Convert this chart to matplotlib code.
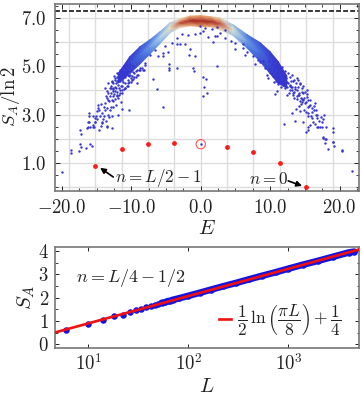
import numpy as np
import matplotlib
matplotlib.use('Agg')
import matplotlib.pyplot as plt
from matplotlib.colors import LinearSegmentedColormap

plt.rcParams['font.family'] = 'cmr10'
plt.rcParams['mathtext.fontset'] = 'cm'
plt.rcParams['axes.unicode_minus'] = False

# Top panel: red states and the grid through their energies
red_E = [-15.2, -11.4, -7.6, -3.8, 3.8, 7.6, 11.4, 15.2]
red_S = [0.87, 1.58, 1.78, 1.83, 1.66, 1.45, 1.01, 0.01]
ring_E = [0.0]
ring_S = [1.77]
grid_E = [-19, -15.2, -11.4, -7.6, -3.8, 0, 3.8, 7.6, 11.4, 15.2, 19]
grid_S = [0, 1, 2, 3, 4, 5, 6, 7]
page_S = 7.3

# Dense band: upper and lower edge at each energy, and the colour level inside
band_E = [-11.9, -10.2, -8.75, -7.3, -5.86, -4.42, -2.98, -1.54, 0, 1.44, 2.78, 4.65, 6.67, 8.54, 9.99, 11.14, 12.4]
band_top = [4.7, 5.40, 5.81, 6.10, 6.43, 6.80, 6.97, 7.08, 7.10, 7.05, 7.01, 6.72, 6.31, 5.98, 5.60, 5.20, 4.6]
band_bot = [4.3, 4.70, 5.10, 5.52, 5.95, 6.39, 6.60, 6.68, 6.64, 6.64, 6.51, 6.28, 5.76, 5.20, 4.70, 4.30, 4.1]
band_mid_heat = [0, .08, .2, .33, .48, .62, .9, 1, 1, 1, .9, .58, .33, .2, .08, .03, 0]
band_edge_heat = [0, .03, .1, .22, .35, .47, .62, .72, .74, .72, .62, .44, .25, .1, .03, 0, 0]

# Scattered states outside the band
dots_E = [-20.0, -18.7, -18.7, -17.6, -17.4, -17.3, -16.6, -16.0, -15.6, -17.4, -17.3, -16.4, -16.2, -16.0, -16.1, -16.3,
          -15.5, -15.2, -15.4, -14.6, -14.2, -14.3, -13.5, -12.8, -16.05, -16.1, -15.0, -14.85, -14.75, -14.27, -14.13,
          -15.23, -14.9, -15.47, -14.27, -15.47, -13.55, -13.17, -12.83, -11.87, -11.39, -10.33, -13.07, -12.59, -13.55,
          -13.79, -13.79, -13.65, -13.55, -13.79, -13.31, -13.07, -12.83, -13.17, -12.59, -12.35, -12.11, -11.87, -11.63,
          -11.39, -12.69, -12.59, -12.35, -11.87, -11.63, -11.15, -10.91, -10.43, -11.15, -10.67, -10.19, -9.95, -9.61,
          -9.23, -11.39, -12.11, -12.59, -13.07, -11.72, -10.91, -10.43,
          -4.62, -4.53, -4.53, -3.47, -1.07, -0.93, 0.37, 0.75, 0.51, 0.9, 0.27, 2.39, -6.3, -5.49, -6.83, -9.23, -8.17,
          -8.03, -8.75, -9.13, -9.71, -8.51,
          -3.47, -2.75, -1.79, -0.83, -0.11, -4.19, -3.47, -2.99, -2.27, -1.55, -1.69, -0.83, -5.39, -6.11, -5.39, -4.67,
          -5.15, -6.59, -7.31, -8.03, -8.75, -8.27,
          0.62, 0.38, 1.58, 2.3, 3.5, 1.1, 2.06, 2.4, 2.78, 1.72, 3.5, 4.32, 4.94, 6.04, 4.94, 6.14, 6.62, 6.38, 7.58, 8.3,
          7.82, 8.54, 9.02, 9.26, -0.1,
          9.51, 9.65, 10.47, 10.57, 10.95, 11.43, 10.95, 10.71, 12.39, 11.91, 12.87, 13.11, 13.59, 14.07, 14.31, 13.35,
          13.83, 14.55, 14.07, 14.79, 13.35, 15.27, 15.27, 14.65, 15.75, 15.03, 15.41, 14.31, 13.69, 14.31, 14.93, 15.51,
          16.47, 16.37, 16.57, 13.11, 16.09, 15.51, 16.71, 16.23, 17.77, 17.67, 17.53, 13.59, 14.79, 12.03, 15.75, 15.51,
          15.13, 15.41, 16.95, 17.19, 17.53, 18.0, 19.11, 19.0, 17.67, 18.0,
          19.05, 17.56, 17.94, 17.9, 18.3, 19.05, 19.14, 20.4, 20.4, 21.8, 0.0]
dots_S = [0.61, 1.54, 1.42, 1.47, 1.78, 1.67, 1.63, 1.78, 1.70, 2.34, 2.2, 2.43, 2.50, 2.48, 2.71, 2.67,
          2.57, 2.71, 2.5, 2.37, 2.71, 2.53, 2.53, 2.45, 3.06, 2.95, 3.13, 3.40, 3.26, 3.06, 2.81,
          2.71, 2.81, 2.95, 2.64, 2.5, 2.5, 2.89, 2.92, 2.99, 3.22, 3.17, 3.2, 3.33, 3.26,
          3.2, 3.47, 3.75, 3.96, 4.09, 3.89, 3.75, 3.61, 3.54, 3.75, 3.96, 3.82, 3.68, 3.89,
          4.03, 4.09, 4.3, 4.44, 4.23, 4.37, 4.51, 4.3, 4.44, 4.72, 4.79, 4.65, 4.44, 4.72,
          4.86, 4.65, 4.37, 3.96, 4.09, 4.09, 4.09, 4.19,
          5.09, 4.92, 4.84, 4.92, 4.94, 4.79, 4.55, 4.48, 4.14, 3.91, 3.78, 5.02, 4.05, 3.33, 4.47, 4.3, 4.85,
          5.06, 4.83, 4.65, 4.47, 4.92,
          6.17, 6.33, 6.28, 6.33, 6.37, 5.96, 5.92, 5.92, 5.92, 5.71, 5.45, 5.41, 5.54, 5.41, 5.41, 5.61,
          5.82, 5.68, 5.48, 5.13, 4.92, 4.85,
          6.58, 6.47, 6.55, 6.61, 6.51, 6.21, 6.24, 6.24, 6.37, 6.0, 6.17, 6.06, 5.96, 5.92, 5.71, 5.75, 5.61, 5.48, 5.41, 5.27,
          5.09, 5.17, 5.2, 4.92, 6.65,
          4.65, 4.51, 4.58, 4.33, 4.72, 4.44, 3.96, 3.86, 3.82, 4.23, 4.23, 4.03, 4.16, 4.44, 4.27, 4.37,
          4.03, 4.09, 3.82, 3.89, 3.89, 4.0, 3.72, 3.64, 3.61, 3.47, 3.33, 3.54, 3.22, 3.13, 3.2, 3.08,
          3.47, 3.2, 2.99, 3.08, 2.85, 2.95, 2.85, 2.71, 2.99, 2.81, 2.67, 2.75, 2.68, 2.61, 2.57, 2.5,
          2.26, 2.34, 2.5, 2.5, 2.5, 2.5, 2.46, 2.26, 2.06, 2.0,
          1.86, 2.02, 2.0, 1.82, 1.58, 1.86, 1.68, 1.54, 1.47, 0.66, 1.77]

# Thick clouds where the band breaks up on each side
cloud_E = [-13.4, -13.0, -12.9, -12.7, -12.4, -12.3, -12.15, -12.0, -12.0, -11.9, -11.75, -11.6, -11.5, -11.4, -11.3, -11.2,
           -11.05, -11.0, -10.85, -10.8, -10.6, -10.55, -10.4, -10.3, -10.2, -10.1, -9.9, -9.8, -9.6, -9.4, -9.0, -12.75,
           -12.5, -13.3, -13.5, -14.0, -14.3, -14.6, -14.5, -14.0, -13.7, -13.4, -15.1, -15.3, -12.2, -11.5, -12.9,
           -13.0, -12.8, -12.6, -12.4, -12.2, -12.0, -11.8, -11.6, -11.4, -11.2, -11.0, -10.8, -10.6, -10.4, -10.2, -10.0,
           -12.5, -12.1, -11.7, -11.3, -10.9, -10.5, -10.1, -9.7, -9.3, -8.9,
           10.2, 10.5, 10.7, 10.9, 11.1, 11.2, 11.4, 11.6, 11.7, 11.9, 12.0, 12.1, 12.3, 12.4, 12.5, 12.6, 12.8, 12.9, 13.0,
           13.1, 13.2, 13.4, 13.5, 13.7, 13.8, 13.9, 14.0, 14.2, 14.3, 14.4, 14.6, 14.7, 14.9, 15.0, 15.1, 15.3, 15.4, 15.6,
           15.8, 16.0, 16.1, 16.3, 16.6, 16.8, 17.0, 17.3, 14.6, 14.2, 15.9, 15.2, 16.4, 16.7,
           10.0, 10.3, 10.6, 10.9, 11.2, 11.5, 11.8, 12.1, 12.4, 12.7, 13.0, 13.3, 13.6, 13.9, 14.2, 14.5, 14.8,
           9.8, 10.4, 11.0, 11.6, 12.2, 12.8, 13.4]
cloud_S = [3.6, 3.9, 4.2, 3.55, 3.65, 4.15, 4.1, 4.55, 3.95, 4.4, 3.8, 4.6, 4.2, 4.75, 3.9, 4.35,
           4.75, 4.05, 4.55, 4.9, 4.2, 4.65, 4.95, 4.35, 4.8, 4.5, 4.6, 5.0, 4.55, 4.8, 4.65, 4.4,
           4.6, 4.3, 3.7, 3.3, 3.45, 3.2, 2.95, 2.95, 2.75, 3.0, 2.95, 2.85, 3.4, 3.5, 3.3,
           4.1, 4.35, 4.05, 4.5, 4.3, 4.7, 4.5, 4.85, 4.45, 4.65, 4.95, 4.7, 5.05, 4.6, 5.1, 4.85,
           3.85, 3.75, 4.0, 4.2, 4.1, 4.3, 4.35, 4.75, 4.55, 4.85,
           5.1, 4.95, 5.05, 4.6, 4.9, 4.25, 4.75, 4.55, 4.95, 4.65, 4.35, 4.8, 4.5, 4.15, 4.7, 4.3, 4.55, 4.0, 4.4,
           4.65, 4.15, 4.45, 3.95, 4.3, 3.75, 4.5, 4.15, 3.9, 4.3, 3.7, 3.95, 4.2, 3.7, 3.95, 3.5, 3.85, 3.6, 3.35,
           3.4, 3.25, 3.1, 3.35, 3.2, 3.0, 2.75, 2.9, 3.5, 3.35, 2.95, 3.1, 2.6, 2.5,
           4.9, 4.7, 4.85, 4.4, 4.55, 4.15, 4.45, 4.1, 4.35, 3.9, 4.15, 3.8, 4.05, 3.65, 3.8, 3.45, 3.6,
           5.2, 5.2, 5.0, 4.8, 4.2, 4.2, 3.7]

top_xticks = [-20, -10, 0, 10, 20]
top_xlabels = ['$-20.0$', '$-10.0$', '$0.0$', '$10.0$', '$20.0$']
top_yticks = [1, 3, 5, 7]
top_ylabels = ['$1.0$', '$3.0$', '$5.0$', '$7.0$']

# Bottom panel
size_L = [6, 10, 14, 18, 22, 26, 30, 34, 38, 42, 46, 50, 54, 58, 62, 66, 70, 80, 100, 130, 170, 220, 300, 400, 550, 750,
          1000, 1400, 2000, 2800, 4000, 4570]
size_S = [0.64, 0.86, 1.03, 1.22, 1.27, 1.40, 1.47, 1.52, 1.60, 1.63, 1.70, 1.72, 1.78, 1.80, 1.85, 1.87, 1.91, 1.97, 2.08,
          2.21, 2.35, 2.48, 2.63, 2.78, 2.94, 3.09, 3.24, 3.41, 3.58, 3.75, 3.93, 3.97]
fit_L = [4.6, 5090]
fit_S = [0.51, 4.06]

heat_map = LinearSegmentedColormap.from_list('heat', [(0, '#3636cf'), (.25, '#4a7ce0'), (.45, '#a5cdf0'), (.6, '#f0eccb'),
                                                      (.75, '#eba46c'), (.9, '#c4472f'), (1, '#a82a22')])
frame = '#777777'
ink = '#222222'
W, H = 362, 396
fig = plt.figure(figsize=(3.62, 3.96), dpi=100)

ax = fig.add_axes([54.5 / W, 1 - 191 / H, 304.5 / W, 187 / H])
for e in grid_E:
    ax.axvline(e, color='#dddddd', lw=1.0, zorder=1)
for s in grid_S:
    ax.axhline(s, color='#dddddd', lw=1.0, zorder=1)
ax.axhline(page_S, color='black', lw=1.1, ls=(0, (3.2, 1.4)), zorder=2)

band_x = np.array([band_E, band_E, band_E]).T
band_y = np.array([band_top, (np.array(band_top) + np.array(band_bot)) / 2, band_bot]).T
band_c = np.array([band_edge_heat, band_mid_heat, band_edge_heat]).T
ax.pcolormesh(band_x, band_y, band_c, shading='gouraud', cmap=heat_map, vmin=0, vmax=1, zorder=3)
ax.scatter(dots_E, dots_S, s=3, color='#3535cf', lw=0, zorder=4)
ax.scatter(cloud_E, cloud_S, s=3, color='#3535cf', lw=0, zorder=4)
ax.scatter(red_E, red_S, s=12, color='#ff1a1a', lw=0, zorder=5)
ax.scatter(ring_E, ring_S, s=45, facecolor='none', edgecolor='#ff5555', lw=0.8, zorder=5)

ax.set_xlim(-21.07, 22.8)
ax.set_ylim(-0.17, 7.58)
ax.set_xticks(top_xticks)
ax.set_xticklabels(top_xlabels, fontsize=13.5, color=ink)
ax.set_yticks(top_yticks)
ax.set_yticklabels(top_ylabels, fontsize=13.5, color=ink)
ax.set_xticks(np.arange(-20, 22.6, 2.5), minor=True)
ax.set_yticks(np.arange(0, 7.6, 0.5), minor=True)
ax.tick_params(which='major', direction='in', length=3.5, width=0.7, top=True, right=True, pad=6, color=ink)
ax.tick_params(which='minor', direction='in', length=2, width=0.6, top=True, right=True, color=ink)

ax.text(-12.35, 0.37, '$n=L/2-1$', fontsize=12.3, color=ink, va='center', zorder=6)
ax.text(6.96, 0.33, '$n=0$', fontsize=12.3, color=ink, va='center', zorder=6)
ax.annotate('', xy=(-14.5, 0.79), xytext=(-12.6, 0.41), zorder=6,
            arrowprops=dict(arrowstyle='-|>', color='black', lw=1.2, mutation_scale=8, shrinkA=0, shrinkB=0))
ax.annotate('', xy=(14.6, 0.04), xytext=(12.6, 0.25), zorder=6,
            arrowprops=dict(arrowstyle='-|>', color='black', lw=1.2, mutation_scale=8, shrinkA=0, shrinkB=0))

bx = fig.add_axes([54.5 / W, 1 - 347.7 / H, 304.5 / W, 101 / H])
bx.set_xscale('log')
bx.plot(size_L[12:], size_S[12:], color='#1414e0', lw=4.8, solid_capstyle='round', zorder=2)
bx.scatter(size_L, size_S, s=22, color='#1414e0', lw=0, zorder=2)
bx.plot(fit_L, fit_S, color='#f01010', lw=1.9, zorder=3)
bx.set_xlim(4.59, 5093)
bx.set_ylim(-0.137, 4.18)
bx.set_xticks([10, 100, 1000])
bx.set_xticklabels(['$10^{1}$', '$10^{2}$', '$10^{3}$'], fontsize=13.5, color=ink)
bx.set_xticks([], minor=True)
bx.set_yticks([0, 1, 2, 3, 4])
bx.set_yticklabels(['$0$', '$1$', '$2$', '$3$', '$4$'], fontsize=13.5, color=ink)
bx.set_yticks(np.arange(0, 4.1, 0.5), minor=True)
bx.tick_params(which='major', direction='in', length=3, width=0.7, top=True, right=True, pad=4, color=ink)
bx.tick_params(which='minor', direction='in', length=1.8, width=0.6, right=True, left=True, color=ink)
bx.text(7.5, 2.83, '$n=L/4-1/2$', fontsize=13, color=ink, va='center')
bx.plot([203, 268], [1.09, 1.09], color='#f01010', lw=1.9)
bx.text(305, 1.09, r'$\dfrac{1}{2}\,\ln\left(\dfrac{\pi L}{8}\right)+\dfrac{1}{4}$', fontsize=12.5, color=ink, va='center')

for a in (ax, bx):
    for sp in a.spines.values():
        sp.set_color(frame)
        sp.set_linewidth(1.2)

fig.text(207 / W, 1 - 229 / H, '$E$', fontsize=15, color=ink, ha='center', va='center')
fig.text(207 / W, 1 - 387 / H, '$L$', fontsize=15, color=ink, ha='center', va='center')
fig.text(10 / W, 1 - 97 / H, r'$S_A/\ln 2$', fontsize=13.5, color=ink, ha='center', va='center', rotation=90)
fig.text(26 / W, 1 - 297 / H, '$S_A$', fontsize=15, color=ink, ha='center', va='center', rotation=90)

fig.savefig('out.png', dpi=100)
